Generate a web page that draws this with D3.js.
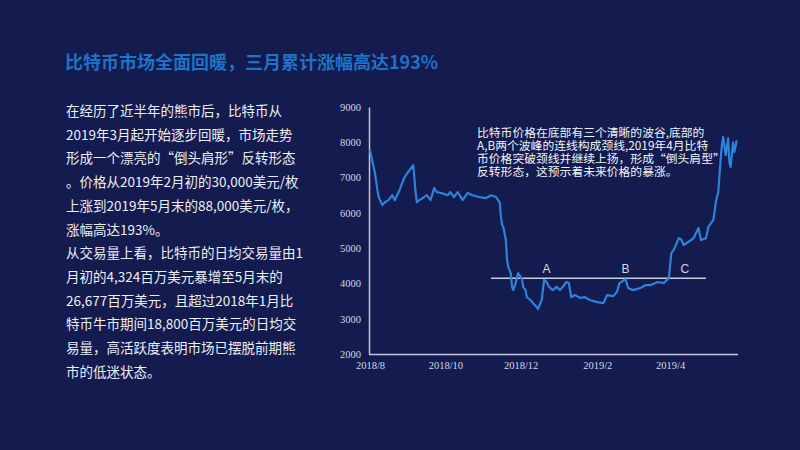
<!DOCTYPE html>
<html><head><meta charset="utf-8">
<script src="https://cdn.jsdelivr.net/npm/d3@7"></script>
<style>html,body{margin:0;padding:0;background:#131b4f;}svg{display:block;}</style>
</head><body>
<svg id="c" width="800" height="450"></svg>
<script>
const titleText = "比特币市场全面回暖，三月累计涨幅高达193%";
const bodyLines = [
  "在经历了近半年的熊市后，比特币从",
  "2019年3月起开始逐步回暖，市场走势",
  "形成一个漂亮的“倒头肩形”反转形态",
  "。价格从2019年2月初的30,000美元/枚",
  "上涨到2019年5月末的88,000美元/枚，",
  "涨幅高达193%。",
  "从交易量上看，比特币的日均交易量由1",
  "月初的4,324百万美元暴增至5月末的",
  "26,677百万美元，且超过2018年1月比",
  "特币牛市期间18,800百万美元的日均交",
  "易量，高活跃度表明市场已摆脱前期熊",
  "市的低迷状态。"
];
const noteLines = [
  "比特币价格在底部有三个清晰的波谷,底部的",
  "A,B两个波峰的连线构成颈线,2019年4月比特",
  "币价格突破颈线并继续上扬，形成“倒头肩型”",
  "反转形态，这预示着未来价格的暴涨。"
];
const dates = ["2018-08-01","2018-08-03","2018-08-05","2018-08-07","2018-08-08","2018-08-11","2018-08-13","2018-08-16","2018-08-19","2018-08-21","2018-08-25","2018-08-27","2018-08-29","2018-09-02","2018-09-05","2018-09-07","2018-09-08","2018-09-10","2018-09-14","2018-09-16","2018-09-19","2018-09-22","2018-09-24","2018-09-28","2018-10-03","2018-10-05","2018-10-08","2018-10-11","2018-10-15","2018-10-19","2018-10-23","2018-10-28","2018-11-03","2018-11-07","2018-11-11","2018-11-14","2018-11-15","2018-11-16","2018-11-17","2018-11-19","2018-11-20","2018-11-21","2018-11-23","2018-11-24","2018-11-25","2018-11-27","2018-11-28","2018-11-29","2018-12-01","2018-12-02","2018-12-03","2018-12-05","2018-12-06","2018-12-09","2018-12-11","2018-12-14","2018-12-15","2018-12-18","2018-12-19","2018-12-20","2018-12-22","2018-12-24","2018-12-27","2018-12-30","2019-01-02","2019-01-04","2019-01-07","2019-01-09","2019-01-11","2019-01-14","2019-01-18","2019-01-22","2019-01-26","2019-02-01","2019-02-06","2019-02-09","2019-02-14","2019-02-17","2019-02-19","2019-02-24","2019-02-26","2019-03-02","2019-03-08","2019-03-12","2019-03-16","2019-03-22","2019-03-27","2019-03-31","2019-04-02","2019-04-04","2019-04-08","2019-04-10","2019-04-12","2019-04-16","2019-04-20","2019-04-24","2019-04-26","2019-04-30","2019-05-02","2019-05-06","2019-05-07","2019-05-08","2019-05-10","2019-05-11","2019-05-12","2019-05-13","2019-05-14","2019-05-16","2019-05-18","2019-05-19","2019-05-20","2019-05-22","2019-05-23","2019-05-25"];
const prices = [7780,7440,7130,6650,6450,6220,6300,6360,6500,6360,6650,6840,7010,7210,7350,6560,6300,6360,6450,6500,6360,6700,6590,6560,6500,6590,6450,6590,6360,6560,6500,6450,6420,6500,6450,6300,5900,5650,5600,5230,4660,4460,4290,3900,3810,4010,4180,4290,4180,4150,3900,3810,3610,3530,3440,3330,3270,3530,3810,4100,4040,3900,3810,3900,3810,3900,4040,4010,3610,3670,3590,3610,3530,3470,3440,3670,3640,3760,4010,4120,3870,3810,3870,3950,3950,4040,4010,4150,4860,4950,5280,5250,5090,5180,5280,5570,5230,5280,5600,5800,6020,6300,6590,7070,7550,7920,8150,7640,8120,7440,7300,8000,7720,8060];
const yTicks = [2000,3000,4000,5000,6000,7000,8000,9000];
const xTicks = ["2018-08-01","2018-10-01","2018-12-01","2019-02-01","2019-04-01"];
const xTickLabels = ["2018/8","2018/10","2018/12","2019/2","2019/4"];
const neckValue = 4150;
const neckRange = ["2018-11-07","2019-04-30"];
const markLabels = ["A","B","C"];
const markDates = ["2018-12-22","2019-02-24","2019-04-13"];

const parse = d3.timeParse("%Y-%m-%d");
const svg = d3.select("#c");
const cjk = "'Noto Sans CJK SC','Noto Sans',sans-serif";

svg.append("text").attr("x",65).attr("y",61).attr("dominant-baseline","central")
  .attr("font-family",cjk).attr("font-weight","bold").attr("font-size",18)
  .attr("fill","#1f72c6").text(titleText);

svg.append("g").selectAll("text").data(bodyLines).join("text")
  .attr("x",66).attr("y",(d,i)=>110+i*23.7).attr("dominant-baseline","central")
  .attr("font-family",cjk).attr("font-size",13.5).attr("fill","#eceef6").text(d=>d);

const x = d3.scaleTime().domain([parse("2018-08-01"),parse("2019-05-26")]).range([370,738]);
const y = d3.scaleLinear().domain([2000,9000]).range([354,107]);

const data = dates.map((d,i)=>({date:parse(d),v:prices[i]}));

const axisColor = "#c3c7da";
const yAxis = svg.append("g").attr("transform","translate(369,0)")
  .call(d3.axisLeft(y).tickValues(yTicks).tickSize(0).tickPadding(8).tickFormat(d3.format("d")));
const xAxis = svg.append("g").attr("transform","translate(0,354)")
  .call(d3.axisBottom(x).tickValues(xTicks.map(parse)).tickSize(0).tickPadding(8)
    .tickFormat((d,i)=>xTickLabels[i]));
[yAxis,xAxis].forEach(g=>{
  g.select(".domain").attr("stroke",axisColor).attr("stroke-width",1.5);
  g.selectAll("text").attr("fill","#d4d7e6").attr("font-family","'Liberation Serif','DejaVu Serif',serif").attr("font-size",10.5);
});
xAxis.select(".domain").attr("d","M369,0.5H738");

svg.append("line").attr("x1",x(parse(neckRange[0]))).attr("x2",x(parse(neckRange[1])))
  .attr("y1",y(neckValue)).attr("y2",y(neckValue)).attr("stroke","#c9cde0").attr("stroke-width",1.5);

svg.append("path").datum(data)
  .attr("d",d3.line().x(d=>x(d.date)).y(d=>y(d.v)))
  .attr("fill","none").attr("stroke","#2f82da").attr("stroke-width",2.2).attr("stroke-linejoin","round");

svg.append("g").selectAll("text").data(markLabels).join("text")
  .attr("x",(d,i)=>x(parse(markDates[i]))).attr("y",y(neckValue)-9)
  .attr("text-anchor","middle").attr("dominant-baseline","central")
  .attr("font-family","'Liberation Sans',Arial,sans-serif").attr("font-size",12).attr("fill","#d4d7e6").text(d=>d);

svg.append("g").selectAll("text").data(noteLines).join("text")
  .attr("x",477).attr("y",(d,i)=>131+i*13.2).attr("dominant-baseline","central")
  .attr("font-family",cjk).attr("font-size",11.8).attr("fill","#f2f3f8").text(d=>d);
</script>
</body></html>
